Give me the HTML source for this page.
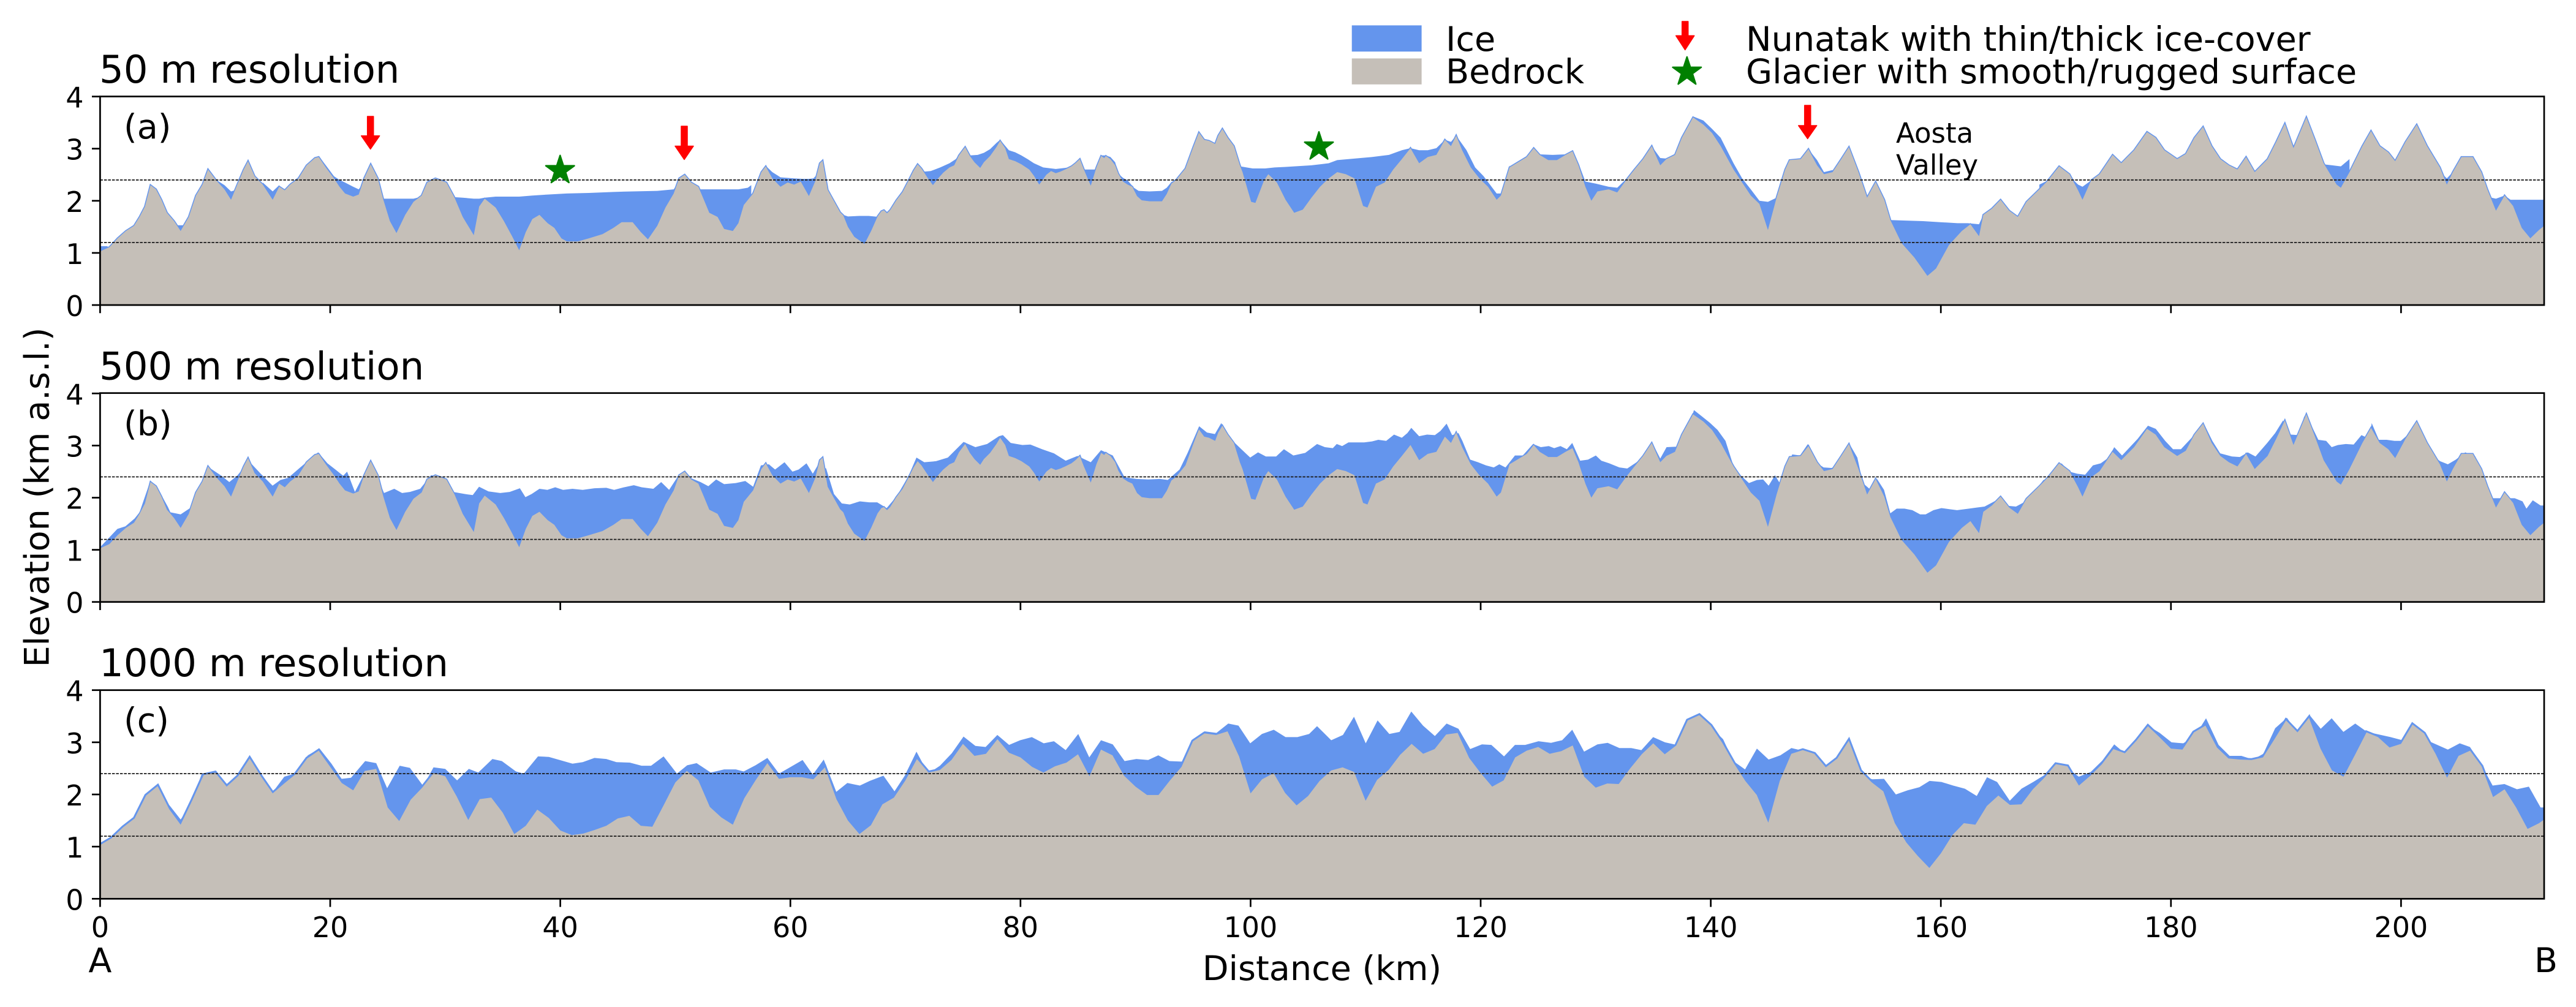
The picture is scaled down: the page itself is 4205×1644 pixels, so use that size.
<!DOCTYPE html>
<html><head><meta charset="utf-8"><style>html,body{margin:0;padding:0;background:#fff;}svg{display:block;}</style></head>
<body>
<svg xmlns="http://www.w3.org/2000/svg" xmlns:xlink="http://www.w3.org/1999/xlink" width="4205" height="1644" viewBox="0 0 4205 1644" font-family="'DejaVu Sans','Liberation Sans',sans-serif">
<defs>
<clipPath id="ca"><rect x="163.4" y="157.5" width="3989.6" height="340.5"/></clipPath>
<clipPath id="cb"><rect x="163.4" y="641.7" width="3989.6" height="341"/></clipPath>
<clipPath id="cc"><rect x="163.4" y="1126.7" width="3989.6" height="340.6"/></clipPath>
<polygon id="bed" vector-effect="non-scaling-stroke" points="0,0 0,1.03 0.81,1.11 1.52,1.28 2.24,1.42 2.95,1.52 3.43,1.69 3.9,1.89 4.38,2.3 4.86,2.22 5.33,2.02 5.81,1.77 6.43,1.61 7,1.42 7.71,1.69 8.33,2.1 8.9,2.31 9.38,2.6 10.1,2.39 10.81,2.22 11.38,2.02 12,2.35 12.48,2.6 12.86,2.76 13.43,2.47 14.14,2.31 15,2.02 15.57,2.27 16.05,2.2 16.52,2.31 17.24,2.43 17.95,2.68 18.67,2.82 19,2.84 19.62,2.64 20.33,2.43 20.81,2.27 21.29,2.14 22,2.08 22.48,2.12 22.95,2.43 23.52,2.7 24.14,2.43 24.62,2.02 25.19,1.61 25.76,1.38 26.52,1.73 27.24,1.98 27.95,2.1 28.43,2.35 29.14,2.43 30.1,2.35 30.81,2.06 31.52,1.69 32.48,1.34 32.95,1.89 33.43,2.04 34.38,1.87 35.1,1.61 35.81,1.32 36.43,1.05 37,1.4 37.57,1.65 38.19,1.73 38.9,1.57 39.48,1.48 40.1,1.28 40.57,1.22 41.52,1.22 42.48,1.28 43.67,1.36 44.62,1.48 45.33,1.59 46.29,1.59 47,1.4 47.62,1.26 48.43,1.52 49.14,1.87 49.86,2.14 50.33,2.43 50.81,2.5 51.38,2.35 52,2.27 52.48,2.02 52.95,1.77 53.67,1.69 54.24,1.46 55,1.42 55.48,1.57 55.95,1.92 56.76,2.14 57.48,2.55 57.86,2.66 58.43,2.43 59.14,2.27 59.76,2.35 60.33,2.31 60.9,2.37 61.61,2.09 62.15,2.37 62.56,2.72 62.8,2.77 63.24,2.21 63.64,2.05 64.32,1.78 64.6,1.72 65,1.5 65.55,1.31 66.44,1.17 67.04,1.43 67.58,1.7 67.91,1.8 68.13,1.82 68.4,1.76 68.67,1.82 69.21,2.01 69.76,2.17 70.3,2.4 70.71,2.58 71.06,2.7 71.39,2.62 71.93,2.44 72.39,2.3 72.88,2.44 73.29,2.54 73.83,2.64 74.24,2.68 74.65,2.87 75.19,3.03 75.6,2.86 76,2.74 76.5,2.63 76.82,2.74 77.36,2.86 77.91,3.03 78.23,3.15 78.67,3.01 78.99,2.8 79.54,2.76 80.08,2.7 80.76,2.6 81.17,2.48 81.63,2.31 82.25,2.5 82.66,2.57 83.07,2.53 83.48,2.56 83.88,2.6 84.43,2.66 84.78,2.72 85.16,2.8 85.51,2.6 86.11,2.29 86.6,2.64 87.01,2.86 87.28,2.82 87.42,2.86 87.82,2.8 88.23,2.68 88.5,2.52 88.91,2.37 89.32,2.31 89.72,2.27 90.13,2.09 90.54,2.01 91.22,1.99 92.3,1.99 92.71,2.13 93.12,2.33 93.53,2.4 94.34,2.62 95.02,3.03 95.51,3.31 95.97,3.17 96.38,3.15 96.92,3.09 97.19,3.25 97.55,3.38 98.01,3.21 98.55,3.05 99.07,2.68 99.3,2.55 100.05,1.98 100.42,1.96 101.17,2.39 101.54,2.51 102.29,2.35 103.04,2.02 103.79,1.77 104.54,1.83 105.29,2.06 106.04,2.27 106.79,2.43 107.53,2.55 108.28,2.51 109.03,2.43 109.78,1.9 110.16,1.87 110.9,2.27 111.65,2.35 112.4,2.6 113.15,2.8 113.9,3.01 114.65,2.72 115.4,2.84 116.15,2.88 116.89,3.17 117.42,3.05 117.87,3.25 118.39,2.97 119.14,2.64 119.89,2.43 120.64,2.27 121.39,2.02 121.76,2.1 122.51,2.64 123.26,2.74 124.01,2.84 124.61,3.01 125.13,2.88 125.88,2.78 126.63,2.78 127.38,2.88 127.98,2.95 128.5,2.68 129.1,2.27 129.62,2 130.15,2.18 131.12,2.22 131.87,2.16 132.62,2.39 133.37,2.6 134.12,2.8 134.87,3.05 135.61,2.68 136.14,2.8 136.89,2.88 137.49,3.21 138.46,3.6 139.36,3.46 140.11,3.3 140.86,3.05 141.98,2.6 142.73,2.35 143.48,2.1 144.23,1.94 144.97,1.44 145.72,2.06 146.47,2.6 146.85,2.78 147.82,2.8 148.49,2.99 149.24,2.68 149.84,2.51 150.59,2.55 151.34,2.8 152.01,3.03 152.84,2.55 153.59,2.06 154.33,2.36 155.08,2.02 155.61,1.63 156.58,1.19 157.7,0.91 158.83,0.56 159.58,0.7 160.7,1.15 161.82,1.42 162.57,1.55 163.32,1.32 163.69,1.73 164.44,1.85 165.19,2.02 165.94,1.81 166.69,1.69 167.44,1.98 168.56,2.22 169.31,2.39 170.28,2.66 171.18,2.51 171.93,2.2 172.31,2.02 173.06,2.39 173.8,2.51 174.93,2.88 175.68,2.72 176.8,2.97 177.92,3.32 178.67,3.21 179.42,2.97 180.54,2.8 181.29,2.9 182.04,3.21 182.79,3.42 183.54,3.05 184.29,2.8 185.04,2.68 185.78,2.6 186.53,2.84 187.28,2.55 188.4,2.8 189.15,3.13 189.9,3.48 190.65,3.01 191.77,3.6 192.52,3.17 193.27,2.72 194.4,2.31 194.77,2.25 195.52,2.55 196.64,3.05 197.39,3.34 198.14,3.05 198.89,2.93 199.49,2.76 200.39,3.13 201.36,3.46 202.26,3.05 203.38,2.64 203.98,2.31 204.5,2.55 205.25,2.84 206.23,2.84 206.98,2.55 207.5,2.22 208.25,1.81 209,2.1 209.74,1.9 210.49,1.48 211.24,1.28 211.99,1.44 212.44,1.52 212.44,0"/>
<polygon id="bedc" vector-effect="non-scaling-stroke" points="0,0 0,1.03 1,1.16 2,1.37 3,1.54 4,1.98 5,2.16 6,1.72 7,1.42 8,1.88 9,2.37 10,2.42 11,2.15 12,2.35 13,2.69 14,2.34 15,2.02 16,2.21 17,2.39 18,2.69 19,2.84 20,2.53 21,2.22 22,2.08 23,2.45 24,2.49 25,1.75 26,1.49 27,1.9 28,2.13 29,2.41 30,2.35 31,1.96 32,1.51 33,1.91 34,1.94 35,1.65 36,1.24 37,1.4 38,1.71 39,1.55 40,1.31 41,1.22 42,1.25 43,1.32 44,1.4 45,1.54 46,1.59 47,1.4 48,1.38 49,1.8 50,2.23 51,2.45 52,2.27 53,1.76 54,1.56 55,1.42 56,1.93 57,2.28 58,2.6 59,2.3 60,2.33 61,2.33 62,2.29 63,2.52 64,1.91 65,1.5 66,1.24 67,1.41 68,1.81 69,1.94 70,2.27 71,2.68 72,2.42 73,2.47 74,2.66 75,2.97 76,2.74 77,2.78 78,3.06 79,2.8 80,2.71 81,2.53 82,2.42 83,2.54 84,2.61 85,2.77 86,2.35 87,2.86 88,2.75 89,2.36 90,2.15 91,1.99 92,1.99 93,2.27 94,2.53 95,3.02 96,3.17 97,3.14 98,3.21 99,2.73 100,2.02 101,2.29 102,2.41 103,2.03 104,1.79 105,1.97 106,2.26 107,2.46 108,2.52 109,2.43 110,1.88 111,2.28 112,2.47 113,2.76 114,2.97 115,2.78 116,2.87 117,3.15 118,3.18 119,2.7 120,2.41 121,2.15 122,2.27 123,2.71 124,2.84 125,2.91 126,2.78 127,2.83 128,2.94 129,2.34 130,2.13 131,2.21 132,2.2 133,2.5 134,2.77 135,2.98 136,2.77 137,2.94 138,3.42 139,3.52 140,3.32 141,2.99 142,2.6 143,2.26 144,1.99 145,1.46 146,2.26 147,2.78 148,2.85 149,2.78 150,2.52 151,2.69 152,3.03 153,2.45 154,2.23 155,2.06 156,1.45 157,1.08 158,0.82 159,0.59 160,0.87 161,1.22 162,1.45 163,1.42 164,1.78 165,1.98 166,1.8 167,1.81 168,2.1 169,2.32 170,2.58 171,2.54 172,2.17 173,2.36 174,2.58 175,2.87 176,2.79 177,3.03 178,3.31 179,3.1 180,2.88 181,2.86 182,3.19 183,3.32 184,2.9 185,2.69 186,2.67 187,2.66 188,2.71 189,3.06 190,3.42 191,3.19 192,3.47 193,2.88 194,2.46 195,2.34 196,2.76 197,3.19 198,3.1 199,2.9 200,2.97 201,3.34 202,3.17 203,2.78 204,2.32 205,2.74 206,2.84 207,2.54 208,1.95 209,2.1 210,1.75 211,1.34 212,1.45 212.44,1.52 212.44,0"/>
<polygon id="star" points="0,-24.5 5.53,-7.6 23.3,-7.57 8.94,2.9 14.4,19.82 0,9.4 -14.4,19.82 -8.94,2.9 -23.3,-7.57 -5.53,-7.6" fill="#008000" stroke="#008000" stroke-width="2.4" stroke-linejoin="round"/>
</defs>
<rect x="0" y="0" width="4205" height="1644" fill="#ffffff"/>

<!-- Panel A -->
<g clip-path="url(#ca)">
<g transform="translate(163.4,498) scale(18.78,-85.1)">
<path fill="#6495ED" d="M0,0 0,1.13 0.6,1.13 0.81,1.1 0.81,0Z M6.2,0 6.2,1.62 6.43,1.53 7.35,1.53 7.5,1.58 7.5,0Z M10.1,0 10.1,2.4 10.81,2.3 11.38,2.18 11.7,2.2 12,2.36 12,0Z M14.14,0 14.14,2.35 15,2.18 15.57,2.3 15.57,0Z M19,0 19,2.86 19.62,2.68 20.33,2.47 20.81,2.4 21.29,2.35 22,2.27 22.48,2.22 22.75,2.3 22.75,0Z M24.14,0 24.14,2.45 24.4,2.2 24.62,2.04 27.24,2.04 27.95,2.08 28.2,2.2 28.2,0Z M30.1,0 30.1,2.36 30.81,2.07 31.52,2.06 32.48,2.04 32.95,2.04 33.43,2.06 34.38,2.08 36.43,2.08 37.57,2.1 38.9,2.12 40.57,2.14 42.48,2.15 44.62,2.17 46.29,2.18 48.43,2.19 49.86,2.22 50.1,2.3 50.1,0Z M51.38,0 51.38,2.37 52,2.22 55.48,2.22 56.3,2.25 56.6,2.3 56.6,0Z M57.86,0 57.86,2.67 58.43,2.55 59.14,2.45 60.33,2.43 61.06,2.42 61.61,2.42 62,2.43 62.3,2.5 62.3,0Z M64.14,0 64.14,1.85 64.46,1.74 65,1.7 66,1.71 66.8,1.71 67.72,1.69 67.85,1.78 67.85,0Z M70.3,0 70.3,2.4 71.06,2.71 71.66,2.56 72.2,2.57 73.02,2.64 73.83,2.72 74.38,2.8 75.19,3.04 75.6,2.87 76.28,2.88 76.82,2.92 77.36,2.99 77.91,3.11 78.23,3.17 78.99,2.97 79.54,2.93 80.08,2.87 80.62,2.8 81.17,2.72 81.98,2.64 83.07,2.61 83.88,2.63 84.43,2.65 84.78,2.72 85.16,2.81 85.51,2.6 86.46,2.6 87.01,2.87 87.42,2.87 87.82,2.84 88.23,2.74 88.5,2.52 88.91,2.44 89.32,2.39 89.86,2.25 90.27,2.19 91.22,2.18 92.3,2.19 92.71,2.25 93.12,2.36 93.53,2.4 93.53,0Z M98.1,0 98.1,3.2 98.42,3.11 99.1,2.66 100.18,2.62 101.27,2.62 102.08,2.64 103.04,2.65 103.79,2.66 105.29,2.68 106.79,2.72 107.53,2.78 109.03,2.81 110.53,2.84 112.03,2.88 113.15,2.97 113.9,3.01 114.65,2.97 115.4,2.97 116.15,3.01 116.89,3.17 117.42,3.13 117.87,3.25 118.77,2.97 119.52,2.64 120.26,2.47 121.39,2.14 121.76,2.14 122.51,2.68 122.51,0Z M124.61,0 124.61,3.01 125.13,2.89 126.25,2.88 127.38,2.89 127.98,2.95 128.5,2.72 129.1,2.37 130,2.33 131.12,2.27 131.87,2.25 132.62,2.41 132.62,0Z M134.87,0 134.87,3.05 135.61,2.82 136.14,2.81 136.89,2.9 138.46,3.62 139.36,3.54 140.11,3.38 140.86,3.21 141.98,2.72 142.73,2.43 143.48,2.22 144.23,2 144.97,1.98 145.72,2.06 145.72,0Z M148.49,0 148.49,2.99 149.24,2.78 149.84,2.55 150.59,2.59 150.59,0Z M155.4,0 155.4,1.75 155.61,1.63 156.96,1.62 158.45,1.61 159.95,1.59 161.45,1.57 162.35,1.57 163.32,1.55 163.69,1.73 163.69,0Z M168.56,0 168.56,2.31 169.31,2.39 170.28,2.66 171.18,2.47 171.93,2.31 172.31,2.27 173.06,2.39 173.06,0Z M192.52,0 192.52,3.17 192.9,2.8 193.27,2.7 194.02,2.68 194.77,2.66 195.52,2.8 195.52,0Z M202.26,0 202.26,3.05 203.01,2.64 203.98,2.43 204.5,2.55 204.5,0Z M207.3,0 207.3,2.3 207.5,2.22 207.87,2.06 208.25,2.04 209,2.1 209.52,2.02 210.87,2.02 212.44,2.02 212.44,0Z"/>
<use xlink:href="#bed" fill="none" stroke="#6495ED" stroke-width="3"/>
<use xlink:href="#bed" fill="#c5bfb8" stroke="none"/>
</g>
</g>

<!-- Panel B -->
<g clip-path="url(#cb)">
<g transform="translate(163.4,982.7) scale(18.78,-85.1)">
<polygon fill="#6495ED" points="0,0 0,1.05 1.5,1.4 2.2,1.45 3,1.6 3.43,1.72 4.38,2.33 5.33,2.05 5.9,1.82 6.11,1.72 7,1.68 7.82,1.8 8.33,2.12 9.53,2.57 10.55,2.42 11.23,2.3 11.91,2.42 12.94,2.7 13.96,2.46 14.99,2.23 15.67,2.34 16.35,2.38 17.5,2.6 18.95,2.87 19.76,2.66 20.45,2.54 21.13,2.42 21.47,2.5 22.15,2.11 23.52,2.7 24.68,2.09 25.57,2.17 26.25,2.09 26.93,2.11 27.82,2.17 28.77,2.43 29.66,2.4 30.69,2.11 31.71,2.07 32.39,2.05 32.94,2.21 33.76,2.12 34.78,2.09 35.6,2.11 36.49,2.18 36.97,2.01 37.51,2.07 38.19,2.17 38.88,2.15 39.56,2.2 40.24,2.15 41.06,2.17 41.95,2.15 42.97,2.18 44,2.19 44.68,2.15 45.36,2.19 46.39,2.24 47.07,2.2 48.09,2.17 48.77,2.3 49.46,2.15 50.14,2.38 50.62,2.48 51.3,2.38 52.19,2.3 52.87,2.22 53.55,2.35 54.24,2.26 55.26,2.28 56.08,2.32 56.76,2.21 57.44,2.62 58.13,2.64 58.67,2.54 59.49,2.68 60.18,2.5 60.72,2.54 61.4,2.66 61.95,2.46 62.43,2.64 63.11,2.56 63.79,2.07 64.47,1.89 65.16,1.87 66.04,1.93 66.86,1.91 67.55,1.91 68.37,1.8 69.25,2.03 70.28,2.42 70.96,2.77 71.64,2.68 72.66,2.7 73.69,2.77 75.05,3.07 76.08,2.97 77.1,3.03 78.13,3.18 78.47,3.2 79.15,3.05 80.17,3.01 80.86,3.02 81.88,2.93 82.91,2.85 83.93,2.71 84.95,2.8 86.11,2.68 87,2.91 88.02,2.81 89.05,2.39 90.07,2.36 91.1,2.35 92.12,2.36 92.8,2.34 93.83,2.54 94.51,2.85 95.53,3.37 96.21,3.25 96.9,3.22 97.45,3.43 98.26,3.13 99.29,2.91 99.97,2.77 100.65,2.87 101.33,2.79 102.22,2.79 102.9,2.93 103.72,2.81 104.75,2.86 105.78,3.03 106.46,2.97 107.15,2.95 107.49,3.03 107.96,2.99 108.51,3.06 109.19,3.06 109.88,3.06 110.56,3.08 111.1,3.11 111.79,3.09 112.47,3.21 113.15,3.15 113.63,3.24 113.97,3.34 114.65,3.18 115.34,3.21 116.02,3.2 116.5,3.28 117.04,3.42 117.52,3.2 118.07,3.24 118.41,3.09 119.09,2.73 119.77,2.68 120.46,2.62 121.14,2.58 121.62,2.64 122.16,2.58 122.98,2.81 123.66,2.81 124.55,3.03 125.23,2.97 125.92,2.99 126.39,2.95 126.94,2.99 127.49,2.93 127.96,3.05 128.65,2.71 129.33,2.73 130.01,2.81 130.49,2.71 131.17,2.66 132.06,2.58 132.74,2.56 133.42,2.66 134.11,2.77 134.99,3.02 135.61,2.75 136.16,2.97 137.18,2.98 137.86,3.2 138.54,3.68 139.23,3.56 139.91,3.44 140.59,3.3 141.28,3.09 141.96,2.62 142.64,2.42 143.32,2.28 144.01,2.34 144.55,2.35 145.03,2.23 145.58,2.43 146.05,2.26 146.74,2.62 147.08,2.83 147.76,2.81 148.44,3.03 149.13,2.68 149.81,2.58 150.49,2.57 151.17,2.62 152.06,3.03 152.74,2.77 153.22,2.28 153.9,2.15 154.45,2.36 155.06,2.15 155.61,1.7 156.16,1.79 156.84,1.79 157.52,1.76 158.2,1.68 158.68,1.68 159.36,1.76 160.05,1.8 160.73,1.78 161.41,1.76 162.44,1.79 163.12,1.81 163.8,1.83 164.83,1.95 165.51,1.85 166.53,1.83 167.21,1.91 168.24,2.15 168.92,2.34 169.6,2.38 170.49,2.66 171.17,2.5 171.86,2.46 172.54,2.44 173.22,2.62 173.9,2.66 174.59,2.77 175.07,2.97 175.75,2.81 176.43,2.97 177.11,3.13 178,3.38 178.68,3.32 179.5,3.09 180.18,2.93 180.87,2.93 181.21,3.01 181.89,3.17 182.57,3.36 182.91,3.4 183.6,3.09 184.28,2.85 185.3,2.79 185.99,2.78 186.67,2.87 187.35,2.79 188.37,3.05 189.06,3.24 189.74,3.48 190.42,3.21 191.11,3.2 191.58,3.56 192.13,3.42 192.81,3.11 193.49,3.09 193.97,2.97 194.52,3.01 195.2,3.03 195.88,3.02 196.56,3.2 197.25,3.13 197.45,3.43 198.07,3.11 198.75,3.11 199.43,3.09 199.98,3.09 200.66,3.22 201.34,3.38 202.03,3.01 202.71,2.81 203.39,2.7 204.07,2.64 204.76,2.73 205.58,2.87 206.46,2.79 207.15,2.38 207.83,1.99 208.51,1.99 209.19,1.99 209.88,1.99 210.56,1.93 210.9,1.79 211.45,1.95 212.13,1.85 212.44,1.85 212.44,0"/>
<use xlink:href="#bed" fill="none" stroke="#6495ED" stroke-width="3"/>
<use xlink:href="#bed" fill="#c5bfb8" stroke="none"/>
</g>
</g>

<!-- Panel C -->
<g clip-path="url(#cc)">
<g transform="translate(163.4,1467.3) scale(18.78,-85.15)">
<polygon fill="#6495ED" points="0,0 0,1.03 3.04,1.57 4.06,1.97 4.95,2.08 6.11,1.77 7,1.52 7.82,1.77 8.84,2.4 9.87,2.44 11.03,2.2 11.91,2.36 12.94,2.71 13.96,2.32 14.99,2.04 16.01,2.34 16.9,2.4 18.06,2.75 19.08,2.88 20.11,2.59 20.99,2.3 21.81,2.32 23.04,2.64 24,2.6 24.95,2.12 26.04,2.55 26.93,2.51 28.09,2.16 28.98,2.52 30,2.49 31.03,2.27 32.05,2.49 32.87,2.42 34.1,2.68 34.92,2.64 36.15,2.44 36.83,2.4 38.06,2.73 39.01,2.72 40.11,2.65 41.06,2.59 41.95,2.62 42.97,2.7 44,2.68 44.88,2.62 46.04,2.61 47.07,2.55 47.89,2.55 48.98,2.73 50.14,2.4 51.03,2.56 51.85,2.6 53.08,2.42 54.24,2.48 55.26,2.48 55.94,2.44 56.97,2.56 58,2.7 59.01,2.4 60.04,2.53 61.06,2.66 61.95,2.38 62.9,2.67 63.99,2.05 64.95,2.22 66.04,2.17 66.9,2.26 68.09,2.36 69.05,2.06 69.94,2.36 70.96,2.82 71.98,2.4 73,2.55 74.03,2.79 75.05,3.11 76.08,2.93 76.97,2.91 77.99,3.14 79.01,2.95 79.97,3.04 80.99,3.1 82.02,2.98 82.91,3.02 83.93,2.85 85.02,3.16 85.98,2.71 87,3.04 88.02,2.96 89.05,2.64 90.07,2.68 91.1,2.66 91.98,2.75 92.94,2.64 94.03,2.63 94.99,3.06 96.01,3.21 97.04,3.18 98.06,3.36 98.95,3.32 99.97,2.98 100.99,3.16 102.02,3.24 103.04,3.1 104.07,3.1 105.09,3.16 105.78,3.31 107.01,3.04 108.03,3.14 108.99,3.49 110.01,2.98 111.04,3.42 112.06,3.16 112.95,3.2 113.97,3.59 114.99,3.32 116.02,3.12 117.04,3.36 118.07,3.26 119.09,2.87 120.11,2.96 120.93,2.95 122.03,2.73 122.98,2.95 123.87,2.95 125.03,3.02 126.12,2.99 127.08,3.04 127.96,3.24 128.99,2.82 130.15,2.96 131.04,2.99 132.06,2.89 133.08,2.89 133.97,2.85 134.99,3.1 136.02,3 137.04,2.95 138,3.28 139.02,3.5 140.05,3.28 141.07,3.06 141.96,2.64 142.98,2.48 144.01,2.88 145.03,2.67 146.05,2.75 147.01,2.89 147.97,2.84 148.92,2.77 150.01,2.34 150.97,2.47 151.99,3.04 153.02,2.37 154.04,2.29 155.06,2.3 156.09,2 157.11,2.08 158.14,2.14 159.02,2.26 160.05,2.24 161.07,2.17 162.09,2.11 163.12,1.97 164.01,2.33 164.89,2.24 165.99,1.88 167.01,2.11 168.03,2.24 168.99,2.37 170.08,2.51 170.97,2.51 171.99,2.34 173.02,2.43 174.04,2.65 175.07,2.96 176.09,2.77 177.04,3.08 178,3.32 179.02,3.18 180.05,3 181.07,2.98 182.09,3.12 183.05,3.46 184.14,2.95 185.1,2.74 186.12,2.74 187.14,2.67 188.03,2.78 189.06,3.27 190.08,3.47 191.11,3.15 192.06,3.52 193.02,3.26 193.97,3.46 194.99,3.2 196.02,3.36 197.04,3.2 198.07,3.15 199.09,3.1 200.12,3.04 201.07,3.33 202.03,3.06 203.05,2.96 204.07,2.86 205.1,2.98 205.99,2.91 206.94,2.59 207.96,2.17 208.99,2.2 210.08,2.1 211.11,2.15 212.13,1.75 212.44,1.75 212.44,0"/>
<use xlink:href="#bedc" fill="none" stroke="#6495ED" stroke-width="6"/>
<use xlink:href="#bedc" fill="#c5bfb8" stroke="none"/>
</g>
</g>

<!-- dashed reference lines -->
<g stroke="#1a1a1a" stroke-width="1.8" stroke-dasharray="4.5,2" fill="none">
<line x1="163.4" y1="293.8" x2="4153" y2="293.8"/>
<line x1="163.4" y1="395.9" x2="4153" y2="395.9"/>
<line x1="163.4" y1="778.5" x2="4153" y2="778.5"/>
<line x1="163.4" y1="880.6" x2="4153" y2="880.6"/>
<line x1="163.4" y1="1263" x2="4153" y2="1263"/>
<line x1="163.4" y1="1365.1" x2="4153" y2="1365.1"/>
</g>

<!-- spines -->
<g fill="none" stroke="#000" stroke-width="2.7">
<rect x="163.4" y="157.5" width="3989.6" height="340.5"/>
<rect x="163.4" y="641.7" width="3989.6" height="341"/>
<rect x="163.4" y="1126.7" width="3989.6" height="340.6"/>
</g>

<!-- ticks -->
<g stroke="#000" stroke-width="2.7">
<line x1="150" y1="498" x2="163.4" y2="498"/><line x1="150" y1="412.9" x2="163.4" y2="412.9"/><line x1="150" y1="327.8" x2="163.4" y2="327.8"/><line x1="150" y1="242.7" x2="163.4" y2="242.7"/><line x1="150" y1="157.6" x2="163.4" y2="157.6"/>
<line x1="150" y1="982.7" x2="163.4" y2="982.7"/><line x1="150" y1="897.6" x2="163.4" y2="897.6"/><line x1="150" y1="812.5" x2="163.4" y2="812.5"/><line x1="150" y1="727.4" x2="163.4" y2="727.4"/><line x1="150" y1="642.3" x2="163.4" y2="642.3"/>
<line x1="150" y1="1467.3" x2="163.4" y2="1467.3"/><line x1="150" y1="1382.15" x2="163.4" y2="1382.15"/><line x1="150" y1="1297" x2="163.4" y2="1297"/><line x1="150" y1="1211.85" x2="163.4" y2="1211.85"/><line x1="150" y1="1126.7" x2="163.4" y2="1126.7"/>
</g>
<g stroke="#000" stroke-width="2.7">
<path d="M163.4,498v13.3 M539,498v13.3 M914.6,498v13.3 M1290.2,498v13.3 M1665.8,498v13.3 M2041.4,498v13.3 M2417,498v13.3 M2792.6,498v13.3 M3168.2,498v13.3 M3543.8,498v13.3 M3919.4,498v13.3"/>
<path d="M163.4,982.7v13.3 M539,982.7v13.3 M914.6,982.7v13.3 M1290.2,982.7v13.3 M1665.8,982.7v13.3 M2041.4,982.7v13.3 M2417,982.7v13.3 M2792.6,982.7v13.3 M3168.2,982.7v13.3 M3543.8,982.7v13.3 M3919.4,982.7v13.3"/>
<path d="M163.4,1467.3v13.3 M539,1467.3v13.3 M914.6,1467.3v13.3 M1290.2,1467.3v13.3 M1665.8,1467.3v13.3 M2041.4,1467.3v13.3 M2417,1467.3v13.3 M2792.6,1467.3v13.3 M3168.2,1467.3v13.3 M3543.8,1467.3v13.3 M3919.4,1467.3v13.3"/>
</g>

<!-- y tick labels -->
<g font-size="46" text-anchor="end" fill="#000">
<text x="136.5" y="516">0</text><text x="136.5" y="430.9">1</text><text x="136.5" y="345.8">2</text><text x="136.5" y="260.7">3</text><text x="136.5" y="175.6">4</text>
<text x="136.5" y="1000.7">0</text><text x="136.5" y="915.6">1</text><text x="136.5" y="830.5">2</text><text x="136.5" y="745.4">3</text><text x="136.5" y="660.3">4</text>
<text x="136.5" y="1485.3">0</text><text x="136.5" y="1400.15">1</text><text x="136.5" y="1315">2</text><text x="136.5" y="1229.85">3</text><text x="136.5" y="1144.7">4</text>
</g>

<!-- x tick labels -->
<g font-size="46" text-anchor="middle" fill="#000">
<text x="163.4" y="1530">0</text><text x="539" y="1530">20</text><text x="914.6" y="1530">40</text><text x="1290.2" y="1530">60</text><text x="1665.8" y="1530">80</text><text x="2041.4" y="1530">100</text><text x="2417" y="1530">120</text><text x="2792.6" y="1530">140</text><text x="3168.2" y="1530">160</text><text x="3543.8" y="1530">180</text><text x="3919.4" y="1530">200</text>
</g>

<!-- titles -->
<g font-size="62.5" fill="#000">
<text x="162" y="135">50 m resolution</text>
<text x="162" y="619.5">500 m resolution</text>
<text x="162" y="1104">1000 m resolution</text>
</g>

<!-- panel labels -->
<g font-size="55.6" fill="#000">
<text x="202" y="226">(a)</text>
<text x="202" y="710.5">(b)</text>
<text x="202" y="1195">(c)</text>
</g>

<!-- axis labels -->
<text font-size="55.6" text-anchor="middle" x="2158" y="1600">Distance (km)</text>
<text font-size="55.6" text-anchor="middle" transform="translate(79.5,812) rotate(-90)">Elevation (km a.s.l.)</text>
<text font-size="55.6" text-anchor="middle" x="163.4" y="1587.5">A</text>
<text font-size="55.6" text-anchor="middle" x="4156" y="1587">B</text>

<!-- Aosta Valley -->
<text font-size="45" x="3095" y="233">Aosta</text>
<text font-size="45" x="3095" y="285">Valley</text>

<!-- arrows -->
<g fill="#ff0000" stroke="#ff0000" stroke-width="1.5" stroke-linejoin="round">
<polygon points="599.7,190 609.7,190 609.7,221.7 619.7,221.7 604.7,243.5 589.7,221.7 599.7,221.7"/>
<polygon points="1112,206 1122,206 1122,238.5 1132,238.5 1117,260.5 1102,238.5 1112,238.5"/>
<polygon points="2945.7,172 2955.7,172 2955.7,205 2965.7,205 2950.7,226.5 2935.7,205 2945.7,205"/>
<polygon points="2745.7,35 2755.7,35 2755.7,58.3 2765.7,58.3 2750.7,81.5 2735.7,58.3 2745.7,58.3"/>
</g>

<!-- stars -->
<use xlink:href="#star" transform="translate(914.3,278.2)"/>
<use xlink:href="#star" transform="translate(2153,239.7)"/>
<use xlink:href="#star" transform="translate(2753.8,117.4)"/>

<!-- legend -->
<rect x="2206.7" y="41.4" width="113.9" height="42.8" fill="#6495ED"/>
<rect x="2206.7" y="95.4" width="113.9" height="42.4" fill="#c5bfb8"/>
<g font-size="55.6" fill="#000">
<text x="2360" y="83">Ice</text>
<text x="2360" y="136">Bedrock</text>
<text x="2850" y="83">Nunatak with thin/thick ice-cover</text>
<text x="2850" y="136">Glacier with smooth/rugged surface</text>
</g>
</svg>
</body></html>
